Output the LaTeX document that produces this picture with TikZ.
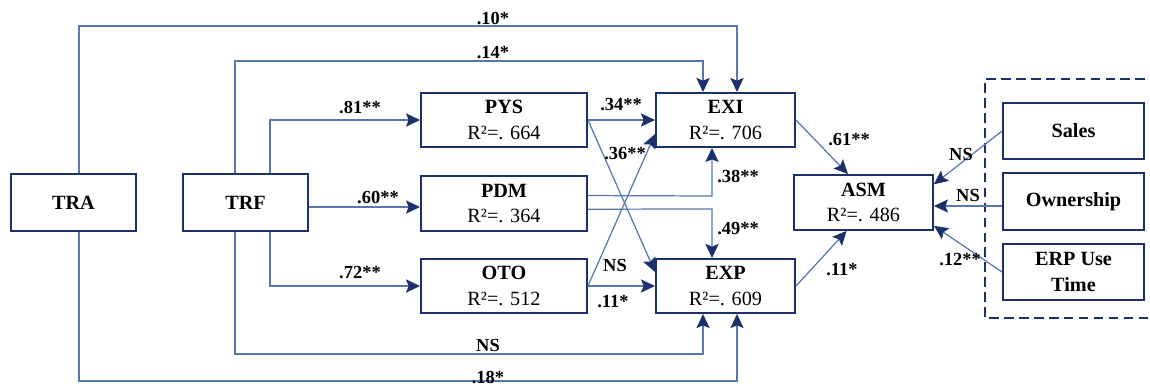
\documentclass[tikz,border=0pt]{standalone}
\usepackage{fontspec}
\setmainfont{Liberation Serif}
\usetikzlibrary{arrows.meta,calc}
\definecolor{lineblue}{RGB}{88,118,176}
\definecolor{navy}{RGB}{28,48,108}
\begin{document}
\begin{tikzpicture}[x=0.02cm,y=-0.02cm,
  box/.style={draw=navy,line width=1.1pt,fill=white,inner sep=0pt,align=center,font=\fontsize{11.5}{14.5}\selectfont},
  conn/.style={draw=lineblue,line width=0.7pt,-{Stealth[length=8pt,width=7.5pt,inset=1.5pt,fill=navy,color=navy]}},
  lbl/.style={font=\fontsize{10.5}{12}\selectfont\bfseries,inner sep=0pt}]
\useasboundingbox (0,0) rectangle (1150,386);
\clip (0,0) rectangle (1150,386);

% dashed control-variable frame
\draw[navy,line width=1.1pt,dash pattern=on 5.5pt off 3pt] (1160,79) -- (985,79) -- (985,318) -- (1160,318);

% boxes
\node[box,minimum width=2.5cm,minimum height=1.14cm] (tra) at (73.5,202.5) {\textbf{TRA}};
\node[box,minimum width=2.5cm,minimum height=1.14cm] (trf) at (245.5,202.5) {\textbf{TRF}};
\node[box,minimum width=3.32cm,minimum height=1.08cm] (pys) at (504,120) {\textbf{PYS}\\R²=. 664};
\node[box,minimum width=3.32cm,minimum height=1.1cm] (pdm) at (504,203.5) {\textbf{PDM}\\R²=. 364};
\node[box,minimum width=3.32cm,minimum height=1.08cm] (oto) at (504,286) {\textbf{OTO}\\R²=. 512};
\node[box,minimum width=2.78cm,minimum height=1.08cm] (exi) at (725.5,120) {\textbf{EXI}\\R²=. 706};
\node[box,minimum width=2.78cm,minimum height=1.08cm] (exp) at (725.5,286) {\textbf{EXP}\\R²=. 609};
\node[box,minimum width=2.78cm,minimum height=1.1cm] (asm) at (863.5,202.5) {\textbf{ASM}\\R²=. 486};
\node[box,minimum width=2.82cm,minimum height=1.12cm] (sales) at (1073.5,131) {\textbf{Sales}};
\node[box,minimum width=2.82cm,minimum height=1.14cm] (own) at (1073.5,201.5) {\textbf{Ownership}};
\node[box,minimum width=2.82cm,minimum height=1.12cm] (erp) at (1073.5,272) {\textbf{ERP Use}\\\textbf{Time}};

% bend coordinates
\coordinate (a10) at (79,26);   \coordinate (b10) at (737,26);
\coordinate (a14) at (235,61);  \coordinate (b14) at (703,61);
\coordinate (a81) at (270,120);
\coordinate (a72) at (270,286);
\coordinate (ans) at (235,354); \coordinate (bns) at (703,354);
\coordinate (a18) at (79,381);  \coordinate (b18) at (737,381);
\coordinate (c38) at (712,196);
\coordinate (c49) at (712,209);

% TRA / TRF paths
\draw[conn] (tra.north -| a10) -- (a10) -- (b10) -- (exi.north -| b10);
\draw[conn] (trf.north -| a14) -- (a14) -- (b14) -- (exi.north -| b14);
\draw[conn] (trf.north -| a81) -- (a81) -- (pys.west |- a81);
\draw[conn] (trf.east |- 0,207) -- (pdm.west |- 0,207);
\draw[conn] (trf.south -| a72) -- (a72) -- (oto.west |- a72);
\draw[conn] (trf.south -| ans) -- (ans) -- (bns) -- (exp.south -| bns);
\draw[conn] (tra.south -| a18) -- (a18) -- (b18) -- (exp.south -| b18);

% mediators to outcomes
\draw[conn] (pys.east) -- (exi.west);
\draw[conn] (pys.east) -- ($(exp.north west)!0.25!(exp.south west)$);
\draw[conn] (oto.east) -- ($(exi.north west)!0.75!(exi.south west)$);
\draw[conn] (oto.east) -- (exp.west);
\draw[conn] ($(pdm.north east)!0.36!(pdm.south east)$) -- (c38) -- (exi.south -| c38);
\draw[conn] ($(pdm.north east)!0.6!(pdm.south east)$) -- (c49) -- (exp.north -| c49);

% to ASM
\draw[conn] (exi.east) -- ($(asm.north west)!0.39!(asm.north east)$);
\draw[conn] (exp.east) -- ($(asm.south west)!0.38!(asm.south east)$);
\draw[conn] (sales.west) -- ($(asm.north east)!0.18!(asm.south east)$);
\draw[conn] (own.west |- 0,206) -- (asm.east |- 0,206);
\draw[conn] (erp.west) -- ($(asm.north east)!0.91!(asm.south east)$);

% labels
\node[lbl] (l10) at (493,18) {.10*};
\node[lbl] (l14) at (493,53) {.14*};
\node[lbl] (l81) at (360,107) {.81**};
\node[lbl] (l60) at (378,197) {.60**};
\node[lbl] (l72) at (360,273) {.72**};
\node[lbl] (lns) at (488,345) {NS};
\node[lbl] (l18) at (488,377) {.18*};
\node[lbl] (l34) at (621,105) {.34**};
\node[lbl] (l36) at (625,154) {.36**};
\node[lbl] (lno) at (615,265) {NS};
\node[lbl] (l11a) at (613,302) {.11*};
\node[lbl] (l38) at (738,176) {.38**};
\node[lbl] (l49) at (738,229) {.49**};
\node[lbl] (l61) at (849,140) {.61**};
\node[lbl] (l11b) at (842,270) {.11*};
\node[lbl] (lsa) at (961,154) {NS};
\node[lbl] (low) at (968,195) {NS};
\node[lbl] (l12) at (960,260) {.12**};
\end{tikzpicture}
\end{document}
